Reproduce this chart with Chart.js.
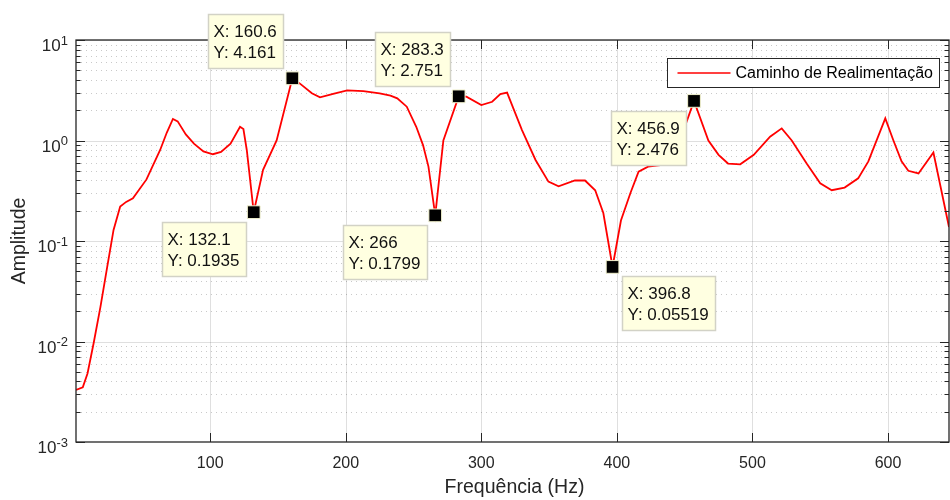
<!DOCTYPE html>
<html>
<head>
<meta charset="utf-8">
<script src="https://cdn.jsdelivr.net/npm/chart.js@4"></script>
<style>
  body { margin: 0; background: #fff; }
</style>
</head>
<body>
<canvas id="respChart" width="950" height="500"></canvas>
<script>
// frequency response (Hz, amplitude)
const freq = [1, 6, 9.5, 14, 19, 24, 28.7, 33.6, 38, 43, 53, 63, 68, 72.5, 76, 82, 88, 95, 102, 108, 115, 122, 124.5, 127,
  132.1, 139, 149, 160.6, 166, 175, 181, 190, 201, 213, 225, 233, 238, 245, 252, 257, 261, 266, 272, 283.3, 289, 300, 308,
  314, 319, 330, 340, 349.5, 357, 369, 376.5, 384, 390, 396.8, 403, 410, 416, 423, 432, 442, 451, 456.9, 467.5, 475, 482,
  491, 501, 513, 521.6, 529, 540, 550, 558.5, 568, 578, 585.5, 598, 604, 610, 615, 622.5, 633.5, 645];
const amp = [0.0033, 0.0035, 0.0048, 0.0096, 0.022, 0.055, 0.129, 0.22, 0.245, 0.266, 0.41, 0.80, 1.2, 1.64, 1.55, 1.15, 0.93,
  0.78, 0.73, 0.77, 0.93, 1.37, 1.30, 0.80, 0.1935, 0.51, 1.0, 4.161, 3.7, 2.95, 2.69, 2.9, 3.15, 3.1, 2.95, 2.8, 2.63, 2.17,
  1.37, 0.9, 0.55, 0.1799, 1.0, 2.751, 2.73, 2.25, 2.43, 2.9, 3.0, 1.27, 0.64, 0.39, 0.35, 0.40, 0.40, 0.32, 0.19, 0.05519,
  0.16, 0.30, 0.49, 0.55, 0.57, 0.75, 1.48, 2.476, 1.0, 0.72, 0.59, 0.58, 0.72, 1.09, 1.32, 1.0, 0.59, 0.375, 0.32, 0.34,
  0.42, 0.62, 1.66, 1.0, 0.62, 0.50, 0.47, 0.76, 0.138];

// data tips
const tipX = [132.1, 160.6, 266, 283.3, 396.8, 456.9];
const tipY = [0.1935, 4.161, 0.1799, 2.751, 0.05519, 2.476];

const xTicks = [100, 200, 300, 400, 500, 600];
const yExps = [-3, -2, -1, 0, 1];
const seriesName = 'Caminho de Realimentação';

const FONT = '"Liberation Sans", Arial, sans-serif';
const AX = '#262626';

// where each tip box sits relative to its marker
const tipPlace = ['below-left', 'above-left', 'below-left', 'above-left', 'below-right', 'below-left'];

const matlabAxes = {
  id: 'matlabAxes',
  beforeDatasetsDraw(chart) {
    const { ctx, chartArea: a, scales: { x, y } } = chart;
    ctx.save();
    ctx.beginPath();
    ctx.rect(a.left, a.top, a.width, a.height);
    ctx.clip();
    ctx.lineWidth = 1;
    // minor dotted grid
    ctx.strokeStyle = 'rgba(38,38,38,0.25)';
    ctx.setLineDash([1, 4]);
    for (const e of yExps.slice(0, -1)) {
      for (let m = 2; m <= 9; m++) {
        const py = Math.round(y.getPixelForValue(m * Math.pow(10, e))) + 0.5;
        ctx.beginPath(); ctx.moveTo(a.left, py); ctx.lineTo(a.right, py); ctx.stroke();
      }
    }
    ctx.setLineDash([]);
    ctx.strokeStyle = 'rgba(38,38,38,0.15)';
    for (const t of xTicks) {
      const px = Math.round(x.getPixelForValue(t)) + 0.5;
      ctx.beginPath(); ctx.moveTo(px, a.top); ctx.lineTo(px, a.bottom); ctx.stroke();
    }
    for (const e of yExps) {
      const py = Math.round(y.getPixelForValue(Math.pow(10, e))) + 0.5;
      ctx.beginPath(); ctx.moveTo(a.left, py); ctx.lineTo(a.right, py); ctx.stroke();
    }
    ctx.restore();
  },
  afterDraw(chart) {
    const { ctx, chartArea: a, scales: { x, y } } = chart;
    ctx.save();
    // axes box
    ctx.strokeStyle = AX;
    ctx.lineWidth = 1.3;
    ctx.strokeRect(a.left, a.top, a.right - a.left, a.bottom - a.top);
    ctx.lineWidth = 1;
    ctx.beginPath();
    for (const t of xTicks) {
      const px = Math.round(x.getPixelForValue(t)) + 0.5;
      ctx.moveTo(px, a.bottom); ctx.lineTo(px, a.bottom - 9);
      ctx.moveTo(px, a.top); ctx.lineTo(px, a.top + 9);
    }
    for (const e of yExps) {
      const py = Math.round(y.getPixelForValue(Math.pow(10, e))) + 0.5;
      ctx.moveTo(a.left, py); ctx.lineTo(a.left + 9, py);
      ctx.moveTo(a.right, py); ctx.lineTo(a.right - 9, py);
      if (e === yExps[yExps.length - 1]) continue;
      for (let m = 2; m <= 9; m++) {
        const pm = Math.round(y.getPixelForValue(m * Math.pow(10, e))) + 0.5;
        ctx.moveTo(a.left, pm); ctx.lineTo(a.left + 4.5, pm);
        ctx.moveTo(a.right, pm); ctx.lineTo(a.right - 4.5, pm);
      }
    }
    ctx.stroke();

    // tick labels
    ctx.fillStyle = AX;
    ctx.font = '16px ' + FONT;
    ctx.textAlign = 'center';
    ctx.textBaseline = 'alphabetic';
    for (const t of xTicks) ctx.fillText(String(t), x.getPixelForValue(t), a.bottom + 26);
    ctx.textAlign = 'left';
    for (const e of yExps) {
      const py = y.getPixelForValue(Math.pow(10, e));
      ctx.font = '17px ' + FONT;
      const wb = ctx.measureText('10').width;
      ctx.font = '13px ' + FONT;
      const we = ctx.measureText(String(e)).width;
      const left = a.left - 8 - wb - we;
      ctx.font = '17px ' + FONT;
      ctx.fillText('10', left, py + 11);
      ctx.font = '13px ' + FONT;
      ctx.fillText(String(e), left + wb, py + 4.5);
    }

    // axis titles
    ctx.font = '19.5px ' + FONT;
    ctx.textAlign = 'center';
    ctx.textBaseline = 'middle';
    ctx.fillText('Frequência (Hz)', (a.left + a.right) / 2 + 2, 488);
    ctx.save();
    ctx.translate(20, (a.top + a.bottom) / 2);
    ctx.rotate(-Math.PI / 2);
    ctx.fillText('Amplitude', 0, 0);
    ctx.restore();

    // data tip boxes
    ctx.font = '17px ' + FONT;
    ctx.textAlign = 'left';
    ctx.textBaseline = 'middle';
    tipX.forEach((tx, i) => {
      const mx = x.getPixelForValue(tx), my = y.getPixelForValue(tipY[i]);
      const l1 = 'X: ' + tx, l2 = 'Y: ' + tipY[i];
      const w = Math.round(Math.max(ctx.measureText(l1).width, ctx.measureText(l2).width) + 12);
      const h = 54;
      let bx, by;
      if (tipPlace[i] === 'above-left') { bx = mx - 9 - w; by = my - 10 - h; }
      else if (tipPlace[i] === 'below-left') { bx = mx - 8 - w; by = my + 10; }
      else { bx = mx + 9; by = my + 9; }
      bx = Math.round(bx) + 0.5; by = Math.round(by) + 0.5;
      ctx.fillStyle = '#ffffe1';
      ctx.fillRect(bx, by, w, h);
      ctx.strokeStyle = '#d2d2c6';
      ctx.lineWidth = 1.5;
      ctx.strokeRect(bx, by, w, h);
      ctx.fillStyle = '#111';
      ctx.fillText(l1, bx + 5, by + 18);
      ctx.fillText(l2, bx + 5, by + 39);
    });

    // legend
    ctx.font = '16px ' + FONT;
    const tw = ctx.measureText(seriesName).width;
    const lw = Math.round(10 + 53 + 5 + tw + 7), lh = 29;
    const lx = Math.round(a.right - 10 - lw) + 0.5, ly = Math.round(a.top + 18) + 0.5;
    ctx.fillStyle = '#fff';
    ctx.fillRect(lx, ly, lw, lh);
    ctx.strokeStyle = AX;
    ctx.lineWidth = 1;
    ctx.strokeRect(lx, ly, lw, lh);
    ctx.strokeStyle = '#ff0000';
    ctx.lineWidth = 1.5;
    ctx.beginPath();
    ctx.moveTo(lx + 10, ly + lh / 2); ctx.lineTo(lx + 63, ly + lh / 2);
    ctx.stroke();
    ctx.fillStyle = '#000';
    ctx.fillText(seriesName, lx + 68, ly + lh / 2 + 1);
    ctx.restore();
  }
};

new Chart(document.getElementById('respChart'), {
  type: 'line',
  data: {
    datasets: [{
      label: seriesName,
      data: freq.map((f, i) => ({ x: f, y: amp[i] })),
      borderColor: '#ff0000',
      borderWidth: 1.8,
      pointRadius: 0,
      tension: 0,
      order: 2
    }, {
      label: 'tips',
      data: tipX.map((f, i) => ({ x: f, y: tipY[i] })),
      showLine: false,
      pointStyle: 'rect',
      pointRadius: 9,
      backgroundColor: '#000',
      borderColor: '#f2f2cf',
      borderWidth: 1,
      order: 1
    }]
  },
  options: {
    responsive: false,
    animation: false,
    devicePixelRatio: 1,
    layout: { autoPadding: false, padding: { left: 76, right: 1, top: 40, bottom: 58 } },
    scales: {
      x: { type: 'linear', min: 1, max: 645, display: false },
      y: { type: 'logarithmic', min: 0.001, max: 10, display: false }
    },
    plugins: {
      legend: { display: false },
      tooltip: { enabled: false }
    }
  },
  plugins: [matlabAxes]
});
</script>
</body>
</html>
